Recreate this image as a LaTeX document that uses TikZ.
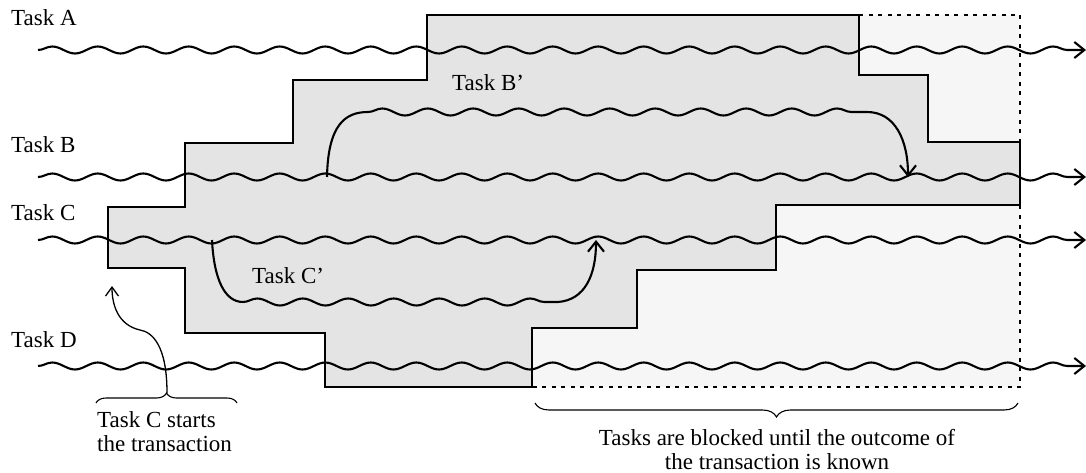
\documentclass[tikz,border=0pt]{standalone}
\usepackage{fontspec}
\setmainfont{Liberation Serif}
\usetikzlibrary{decorations.pathmorphing,decorations.pathreplacing,arrows.meta}

\definecolor{txdark}{HTML}{E4E4E4}
\definecolor{txlight}{HTML}{F6F6F6}

\begin{document}
\begin{tikzpicture}[x=1pt,y=-1pt,
  every node/.style={font=\fontsize{23}{24}\selectfont, inner sep=0pt},
  barb/.style={-{Straight Barb[length=10pt,width=16pt]}},
  wavy/.style={decorate, decoration={snake, amplitude=3.5pt, segment length=45.5pt}},
  taskline/.style={line width=2.1pt, barb, wavy, decoration={post length=3pt}},
  handoff/.style={line width=2.1pt, barb},
  region/.style={line width=2.5pt, line join=miter},
  blocked/.style={line width=2.6pt, dash pattern=on 4pt off 5.5pt},
  bracket/.style={line width=1.1pt, decorate, decoration={brace}},
  note/.style={line width=1.3pt, -{Straight Barb[length=9pt,width=13pt]}}]

\useasboundingbox[fill=white] (0,0) rectangle (1086,473);

% area where the other tasks wait
\fill[txlight] (532,15) rectangle (1020,387);

% the transaction
\path[fill=txdark] (108,268) -- (108,207) -- (185,207) -- (185,143) -- (293,143)
  -- (293,80) -- (427,80) -- (427,15) -- (859,15) -- (859,75) -- (928,75)
  -- (928,142) -- (1020,142) -- (1020,205) -- (776,205) -- (776,270)
  -- (637,270) -- (637,328) -- (532,328) -- (532,387) -- (325,387)
  -- (325,333) -- (185,333) -- (185,268) -- cycle;

\draw[blocked] (859,15) -- (1020,15) -- (1020,387) -- (532,387);

\draw[region] (108,268) -- (108,207) -- (185,207) -- (185,143) -- (293,143)
  -- (293,80) -- (427,80) -- (427,15) -- (859,15) -- (859,75) -- (928,75)
  -- (928,142) -- (1020,142) -- (1020,205) -- (776,205) -- (776,270)
  -- (637,270) -- (637,328) -- (532,328) -- (532,387) -- (325,387)
  -- (325,333) -- (185,333) -- (185,268) -- cycle;

% task labels
\node[anchor=base west] (labA) at (11,26) {Task A};
\node[anchor=base west] (labB) at (11,153) {Task B};
\node[anchor=base west] (labC) at (11,220) {Task C};
\node[anchor=base west] (labD) at (11,347) {Task D};
\node[anchor=base west] (labBp) at (452,91) {Task B’};
\node[anchor=base west] (labCp) at (252,283) {Task C’};

% task timelines
\coordinate (A0) at (38,50);   \coordinate (A1) at (1086,50);
\coordinate (B0) at (38,177);  \coordinate (B1) at (1086,177);
\coordinate (C0) at (38,240);  \coordinate (C1) at (1086,240);
\coordinate (D0) at (38,366);  \coordinate (D1) at (1086,366);

\draw[taskline] (A0) -- (A1);
\draw[taskline] (B0) -- (B1);
\draw[taskline] (C0) -- (C1);
\draw[taskline] (D0) -- (D1);

% sub-tasks B' and C'
\coordinate (Bfork) at (327,177);
\coordinate (Bjoin) at (908,177);
\coordinate (Cfork) at (212,240);
\coordinate (Cjoin) at (596,240);

\draw[handoff] (Bfork) .. controls (328,125) and (345,112) .. (368,112)
  decorate[decoration={snake, amplitude=3.5pt, segment length=45.5pt}] { -- (867,112) }
  .. controls (895,112) and (908,140) .. (Bjoin);

\draw[handoff] (Cfork) .. controls (214,280) and (225,302) .. (243,302)
  decorate[decoration={snake, amplitude=3.5pt, segment length=45.5pt}] { -- (558,302) }
  .. controls (585,300) and (596,275) .. (Cjoin);

% annotations
\coordinate (lbL) at (96,403);  \coordinate (lbR) at (237,403);
\coordinate (rbL) at (535,403); \coordinate (rbR) at (1018,403);
\draw[bracket, decoration={amplitude=10pt}] (lbL) -- (lbR);
\draw[bracket, decoration={amplitude=14pt}] (rbR) -- (rbL);

\coordinate (lbTip) at (167,393);
\coordinate (start) at (112,286);
\draw[note] (lbTip) .. controls (167,345) and (152,332) .. (140,330)
  .. controls (118,325) and (112,305) .. (start);

\node[anchor=north west, align=left] (startNote) at (97,411)
  {Task C starts\\the transaction};
\node[anchor=north, align=center] (blockNote) at (777,429)
  {Tasks are blocked until the outcome of\\the transaction is known};

\end{tikzpicture}
\end{document}
